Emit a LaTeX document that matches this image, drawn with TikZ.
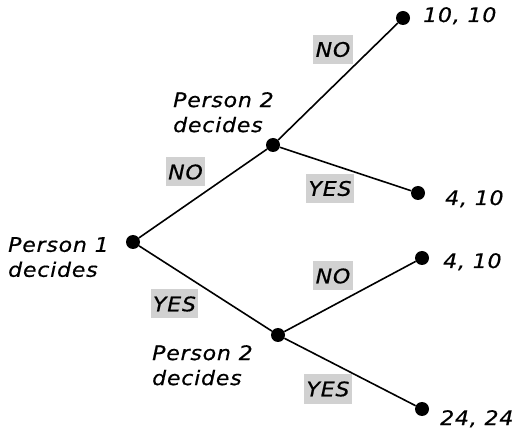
\documentclass[tikz,border=0pt]{standalone}
\usepackage{fontspec}
\setsansfont{DejaVu Sans}[LetterSpace=4, FakeStretch=1.1, FakeBold=0.6]
\usetikzlibrary{positioning}
\tikzset{dotstyle/.style = {circle, fill = black, inner sep = 0pt, minimum size = 14pt},
	choicestyle/.style = {rectangle, fill = black!18, inner xsep = 2.5pt, inner ysep = 0pt, minimum height = 29pt},
	namestyle/.style = {align = left, inner sep = 0pt, anchor = north west},
	payoffstyle/.style = {inner sep = 0pt, anchor = base west},
	branch/.style = {-, line width = 1.6pt}}

\begin{document}
\begin{tikzpicture}[x = 1pt, y = -1pt, font = \fontsize{20}{25}\selectfont\sffamily\itshape]
 \useasboundingbox (0,0) rectangle (517,430);

 \node (first) at (133,242) [dotstyle] {};
 \node (secondup) at (273,145) [dotstyle] {}
  edge [branch] (first);
 \node (secondlow) at (278,335) [dotstyle] {}
  edge [branch] (first);

 \node (endnono) at (403,18) [dotstyle] {}
  edge [branch] (secondup);
 \node (endnoyes) at (418,193) [dotstyle] {}
  edge [branch] (secondup);
 \node (endyesno) at (422,258) [dotstyle] {}
  edge [branch] (secondlow);
 \node (endyesyes) at (422,409) [dotstyle] {}
  edge [branch] (secondlow);

 \node (firstname) at (8,237) [namestyle] {Person 1\\decides};
 \node (secondupname) at (173,92) [namestyle] {Person 2\\decides};
 \node (secondlowname) at (152,345) [namestyle] {Person 2\\decides};

 \node (choiceno) at (185.5,172) [choicestyle] {NO};
 \node (choiceyes) at (174.5,304) [choicestyle] {YES};
 \node (upno) at (333,49.5) [choicestyle] {NO};
 \node (upyes) at (330,188.5) [choicestyle] {YES};
 \node (lowno) at (333,276) [choicestyle] {NO};
 \node (lowyes) at (328,389) [choicestyle] {YES};

 \node (paynono) at (423,22) [payoffstyle] {10, 10};
 \node (paynoyes) at (445,205) [payoffstyle] {4, 10};
 \node (payyesno) at (443,268) [payoffstyle] {4, 10};
 \node (payyesyes) at (440,425) [payoffstyle] {24, 24};

\end{tikzpicture}
\end{document}
